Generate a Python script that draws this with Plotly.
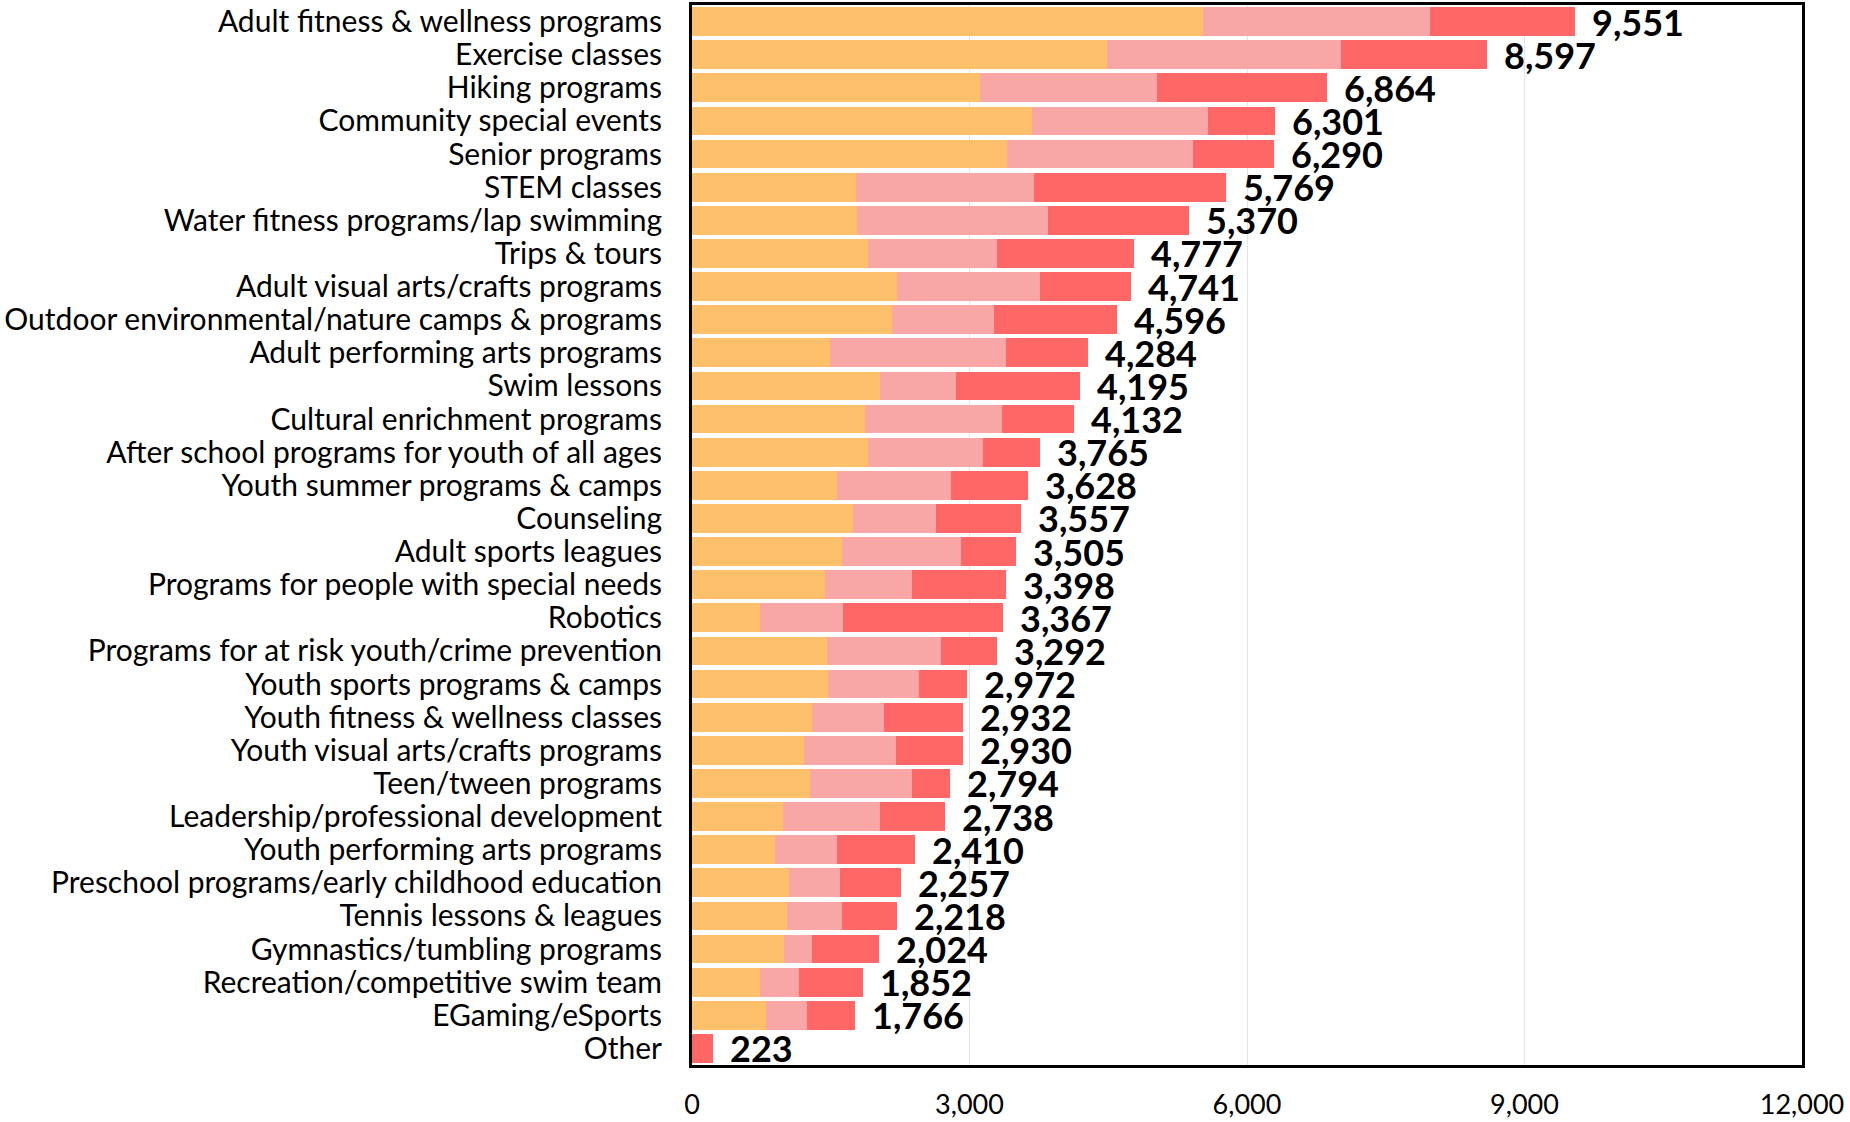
import plotly.graph_objects as go

categories = [
    "Adult fitness & wellness programs", "Exercise classes", "Hiking programs",
    "Community special events", "Senior programs", "STEM classes",
    "Water fitness programs/lap swimming", "Trips & tours",
    "Adult visual arts/crafts programs", "Outdoor environmental/nature camps & programs",
    "Adult performing arts programs", "Swim lessons", "Cultural enrichment programs",
    "After school programs for youth of all ages", "Youth summer programs & camps",
    "Counseling", "Adult sports leagues", "Programs for people with special needs",
    "Robotics", "Programs for at risk youth/crime prevention",
    "Youth sports programs & camps", "Youth fitness & wellness classes",
    "Youth visual arts/crafts programs", "Teen/tween programs",
    "Leadership/professional development", "Youth performing arts programs",
    "Preschool programs/early childhood education", "Tennis lessons & leagues",
    "Gymnastics/tumbling programs", "Recreation/competitive swim team",
    "EGaming/eSports", "Other",
]

series_1 = [5520, 4483, 3115, 3678, 3404, 1771, 1779, 1899, 2221, 2157, 1489, 2028,
            1867, 1907, 1569, 1738, 1618, 1433, 740, 1457, 1473, 1296, 1207, 1280,
            982, 893, 1046, 1022, 998, 740, 797, 0]
series_2 = [2455, 2535, 1907, 1899, 2012, 1923, 2068, 1401, 1537, 1110, 1907, 829,
            1489, 1240, 1232, 902, 1295, 949, 894, 1239, 982, 780, 998, 1102,
            1046, 676, 556, 596, 298, 419, 450, 0]
totals = [9551, 8597, 6864, 6301, 6290, 5769, 5370, 4777, 4741, 4596, 4284, 4195,
          4132, 3765, 3628, 3557, 3505, 3398, 3367, 3292, 2972, 2932, 2930, 2794,
          2738, 2410, 2257, 2218, 2024, 1852, 1766, 223]
series_3 = [t - a - b for t, a, b in zip(totals, series_1, series_2)]

x_ticks = [0, 3000, 6000, 9000, 12000]

colors = ["#FFC06B", "#F9A6A6", "#FF6666"]

fig = go.Figure()
for vals, col in zip([series_1, series_2, series_3], colors):
    fig.add_trace(go.Bar(
        y=categories, x=vals, orientation="h",
        marker=dict(color=col, line=dict(width=0)),
        showlegend=False, hoverinfo="x+y",
    ))

for cat, tot in zip(categories, totals):
    fig.add_annotation(
        x=tot, y=cat, text=f"{tot:,}", showarrow=False,
        xanchor="left", yanchor="middle", xshift=15,
        font=dict(family="Lato", size=36, color="black", weight="bold"),
    )

fig.update_layout(
    barmode="stack",
    bargap=0.135,
    width=1850, height=1122,
    margin=dict(l=692, r=48, t=5, b=57, autoexpand=False),
    paper_bgcolor="white", plot_bgcolor="white",
    font=dict(family="Lato", color="black"),
)
fig.update_xaxes(
    range=[0, 12000], tickvals=x_ticks, tickformat=",",
    showgrid=True, gridcolor="#e3e3e3", gridwidth=1,
    showline=True, linecolor="black", linewidth=3, mirror=True,
    tickfont=dict(family="Lato", size=27, color="black"),
    ticks="outside", ticklen=14, tickcolor="rgba(0,0,0,0)",
    zeroline=False, automargin=False,
)
fig.update_yaxes(
    categoryorder="array", categoryarray=categories,
    autorange=False, range=[len(categories) - 0.5, -0.5],
    tickmode="linear", dtick=1,
    showline=True, linecolor="black", linewidth=3, mirror=True,
    tickfont=dict(family="Lato", size=30, color="black"),
    ticks="outside", ticklen=21, tickcolor="rgba(0,0,0,0)",
    showgrid=False, automargin=False,
)

fig.write_html(
    "out.html",
    config={"displayModeBar": False},
    post_script="document.body.style.margin='0';document.body.style.overflow='hidden';",
)
